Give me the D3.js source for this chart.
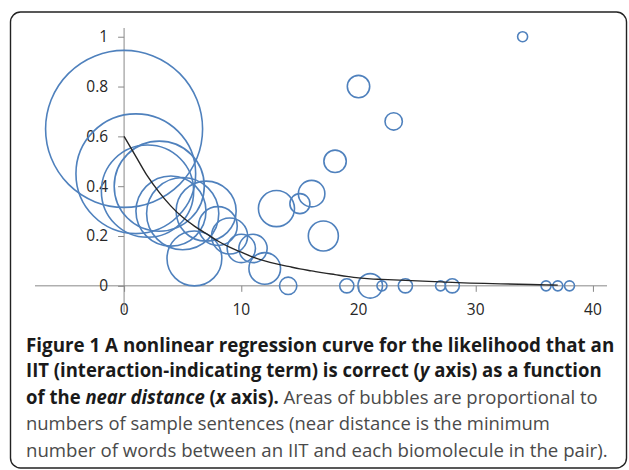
<!DOCTYPE html>
<html>
<head>
<meta charset="utf-8">
<script src="https://cdn.jsdelivr.net/npm/d3@7"></script>
<style>
  html, body { margin: 0; padding: 0; background: #fff; }
  svg { display: block; }
</style>
</head>
<body>
<svg id="chart" width="629" height="470"></svg>
<script>
// ---- data ----
const bubbleX = [0, 1, 2, 3, 4, 5, 6, 7, 8, 9, 10, 11, 12, 13, 14, 15, 16, 17, 18, 19, 20, 21, 22, 23, 24, 27, 28, 34, 36, 37, 38];
const bubbleY = [0.63, 0.45, 0.38, 0.40, 0.30, 0.29, 0.11, 0.30, 0.24, 0.20, 0.15, 0.15, 0.07, 0.31, 0, 0.33, 0.37, 0.20, 0.50, 0, 0.80, 0, 0, 0.66, 0, 0, 0, 1, 0, 0, 0];
const sentences = [246, 143, 85, 81, 49, 52, 30, 36, 15, 13, 8, 8, 10, 13, 3, 4, 7, 9, 5, 2, 5, 6, 1, 3, 2, 1, 2, 1, 1, 1, 1];

const curveX = [0, 1, 2, 3, 4, 5, 6, 7, 8, 9, 10, 11, 12, 13, 14, 15, 16, 17, 18, 19, 20, 21, 22, 23, 24, 27, 28, 36, 37];
const curveY = [0.60, 0.52, 0.44, 0.375, 0.32, 0.275, 0.24, 0.21, 0.18, 0.155, 0.135, 0.115, 0.10, 0.088, 0.078, 0.068, 0.06, 0.052, 0.045, 0.038, 0.032, 0.028, 0.026, 0.024, 0.022, 0.016, 0.014, 0.004, 0.003];

const xTicks = [0, 10, 20, 30, 40];
const yTicks = [0, 0.2, 0.4, 0.6, 0.8, 1];

const captionLines = [
  [{t: "Figure 1 A nonlinear regression curve for the likelihood that an", b: true}],
  [{t: "IIT (interaction-indicating term) is correct (", b: true}, {t: "y", b: true, i: true}, {t: " axis) as a function", b: true}],
  [{t: "of the ", b: true}, {t: "near distance", b: true, i: true}, {t: " (", b: true}, {t: "x", b: true, i: true}, {t: " axis).", b: true}, {t: " Areas of bubbles are proportional to", b: false}],
  [{t: "numbers of sample sentences (near distance is the minimum", b: false}],
  [{t: "number of words between an IIT and each biomolecule in the pair).", b: false}]
];
const captionWidths = [589, 576, 572, 524, 582];
const captionBaselines = [351.5, 377, 403.5, 430, 456.5];

// ---- chart ----
const svg = d3.select("#chart");

// frame
svg.append("rect")
  .attr("x", 10.5).attr("y", 12).attr("width", 616).attr("height", 456)
  .attr("rx", 10).attr("ry", 10)
  .attr("fill", "none").attr("stroke", "#222").attr("stroke-width", 1.4);

const x = d3.scaleLinear().domain([-7.6, 41.2]).range([35, 607]);
const y = d3.scaleLinear().domain([-0.105, 1.035]).range([312, 28]);
const r = d3.scaleSqrt().domain([0, 246]).range([0, 78.5]);

const axisColor = "#888";
const labelFont = "'Open Sans', sans-serif";

// x axis (at y = 0)
const xAxis = svg.append("g")
  .attr("transform", `translate(0,${y(0)})`)
  .call(d3.axisBottom(x).tickValues(xTicks).tickSize(6).tickFormat(""));
xAxis.select(".domain").attr("stroke", axisColor).attr("d", `M${x(-7.6)},0H${x(41.2)}`);
xAxis.selectAll(".tick line").attr("stroke", axisColor);

// x tick labels (low position)
svg.append("g").selectAll("text").data(xTicks).join("text")
  .attr("x", d => x(d)).attr("y", 314.5)
  .attr("text-anchor", "middle")
  .attr("font-family", labelFont).attr("font-size", 15.5)
  .attr("fill", "#262626")
  .text(d => d);

// y axis (at x = 0)
const yAxis = svg.append("g")
  .attr("transform", `translate(${x(0)},0)`)
  .call(d3.axisLeft(y).tickValues(yTicks).tickSize(6).tickPadding(10).tickFormat(d => d));
yAxis.select(".domain").attr("stroke", axisColor).attr("d", `M0,${y(1.035)}V${y(-0.105)}`);
yAxis.selectAll(".tick line").attr("stroke", axisColor);
yAxis.selectAll(".tick text")
  .attr("font-family", labelFont).attr("font-size", 15.5).attr("fill", "#262626");

// bubbles
const bubbles = bubbleX.map((d, i) => ({x: d, y: bubbleY[i], n: sentences[i]}));
svg.append("g").selectAll("circle").data(bubbles).join("circle")
  .attr("cx", d => x(d.x)).attr("cy", d => y(d.y)).attr("r", d => r(d.n))
  .attr("fill", "none").attr("stroke", "#4f81bd").attr("stroke-width", 1.6);

// regression curve
const curve = curveX.map((d, i) => [d, curveY[i]]);
svg.append("path")
  .datum(curve)
  .attr("fill", "none").attr("stroke", "#262626").attr("stroke-width", 1.4)
  .attr("d", d3.line().x(d => x(d[0])).y(d => y(d[1])).curve(d3.curveMonotoneX));

// caption
captionLines.forEach((segs, li) => {
  const t = svg.append("text")
    .attr("font-family", labelFont).attr("font-size", 19);
  segs.forEach(s => {
    t.append("tspan")
      .attr("font-weight", s.b ? "bold" : "normal")
      .attr("font-style", s.i ? "italic" : "normal")
      .attr("fill", s.b ? "#1a1a1a" : "#4a4a4a")
      .text(s.t);
  });
  const w = t.node().getComputedTextLength();
  const sx = captionWidths[li] / w;
  t.attr("transform", `translate(26,${captionBaselines[li]}) scale(${sx},1)`);
});
</script>
</body>
</html>
